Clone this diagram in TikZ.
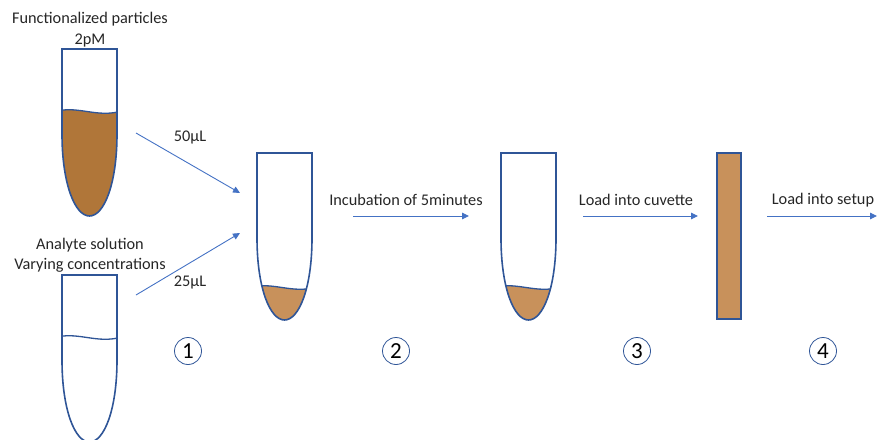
\documentclass[tikz,border=0pt]{standalone}
\usepackage{fontspec}
\setmainfont{Carlito}
\usetikzlibrary{arrows.meta}
\definecolor{tubeblue}{HTML}{2F5597}
\definecolor{arrowblue}{HTML}{4472C4}
\definecolor{darkliquid}{HTML}{B07639}
\definecolor{lightliquid}{HTML}{C8915B}
\tikzset{
  lbl/.style={font=\fontsize{16.3}{18}\selectfont, inner sep=0pt, text=black!85},
  flow/.style={draw=arrowblue, line width=0.9pt, -{Triangle[length=7pt,width=6.5pt]}},
  stepnum/.style={circle, draw=tubeblue, line width=0.8pt, minimum size=27pt, inner sep=0pt, font=\fontsize{23}{25}\selectfont},
  pics/tube/.style n args={2}{code={
    \begin{scope}
      \clip (0,0) -- (0,85) .. controls (0,135) and (13,167) .. (27.5,167) .. controls (42,167) and (55,135) .. (55,85) -- (55,0) -- cycle;
      \fill[#1] (-5,#2) .. controls (18,#2-5) and (35,#2+7) .. (60,#2) -- (60,180) -- (-5,180) -- cycle;
      \draw[tubeblue, line width=1.3pt] (-5,#2) .. controls (18,#2-5) and (35,#2+7) .. (60,#2);
    \end{scope}
    \draw[tubeblue, line width=1.6pt] (0,0) -- (0,85) .. controls (0,135) and (13,167) .. (27.5,167) .. controls (42,167) and (55,135) .. (55,85) -- (55,0) -- cycle;
  }}
}
\begin{document}
\begin{tikzpicture}[x=1pt,y=-1pt]
\useasboundingbox (0,0) rectangle (877,439);
% tubes
\pic (tA) at (62,49) {tube={darkliquid}{62}};
\pic (tB) at (62,275) {tube={white}{62}};
\pic (tC) at (257,153) {tube={lightliquid}{134}};
\pic (tD) at (501,153) {tube={lightliquid}{134}};
% cuvette
\node (cuv) [draw=tubeblue, fill=lightliquid, line width=1.6pt, minimum width=24pt, minimum height=166pt, inner sep=0pt] at (729,236) {};
% labels
\node[lbl] (f1) at (90,19) {Functionalized particles};
\node[lbl] (f2) at (90,41) {2pM};
\node[lbl] (a1) at (90,245) {Analyte solution};
\node[lbl] (a2) at (90,265) {Varying concentrations};
\node[lbl] (v50) at (190,138) {50µL};
\node[lbl] (v25) at (190,283) {25µL};
\node[lbl] (inc) at (406,200) {Incubation of 5minutes};
\node[lbl] (lc) at (636,200) {Load into cuvette};
\node[lbl] (ls) at (823,200) {Load into setup};
% arrow end points
\coordinate (s50) at (136,133);
\coordinate (e50) at (240,193);
\coordinate (s25) at (136,295);
\coordinate (e25) at (240,233);
\coordinate (s2) at (353,216);
\coordinate (e2) at (469,216);
\coordinate (s3) at (583,216);
\coordinate (e3) at (698,216);
\coordinate (s4) at (767,216);
\coordinate (e4) at (877,216);
\draw[flow] (s50) -- (e50);
\draw[flow] (s25) -- (e25);
\draw[flow] (s2) -- (e2);
\draw[flow] (s3) -- (e3);
\draw[flow] (s4) -- (e4);
% step numbers
\node[stepnum] (n1) at (188,351) {1};
\node[stepnum] (n2) at (396,351) {2};
\node[stepnum] (n3) at (637,351) {3};
\node[stepnum] (n4) at (823,351) {4};
\end{tikzpicture}
\end{document}
